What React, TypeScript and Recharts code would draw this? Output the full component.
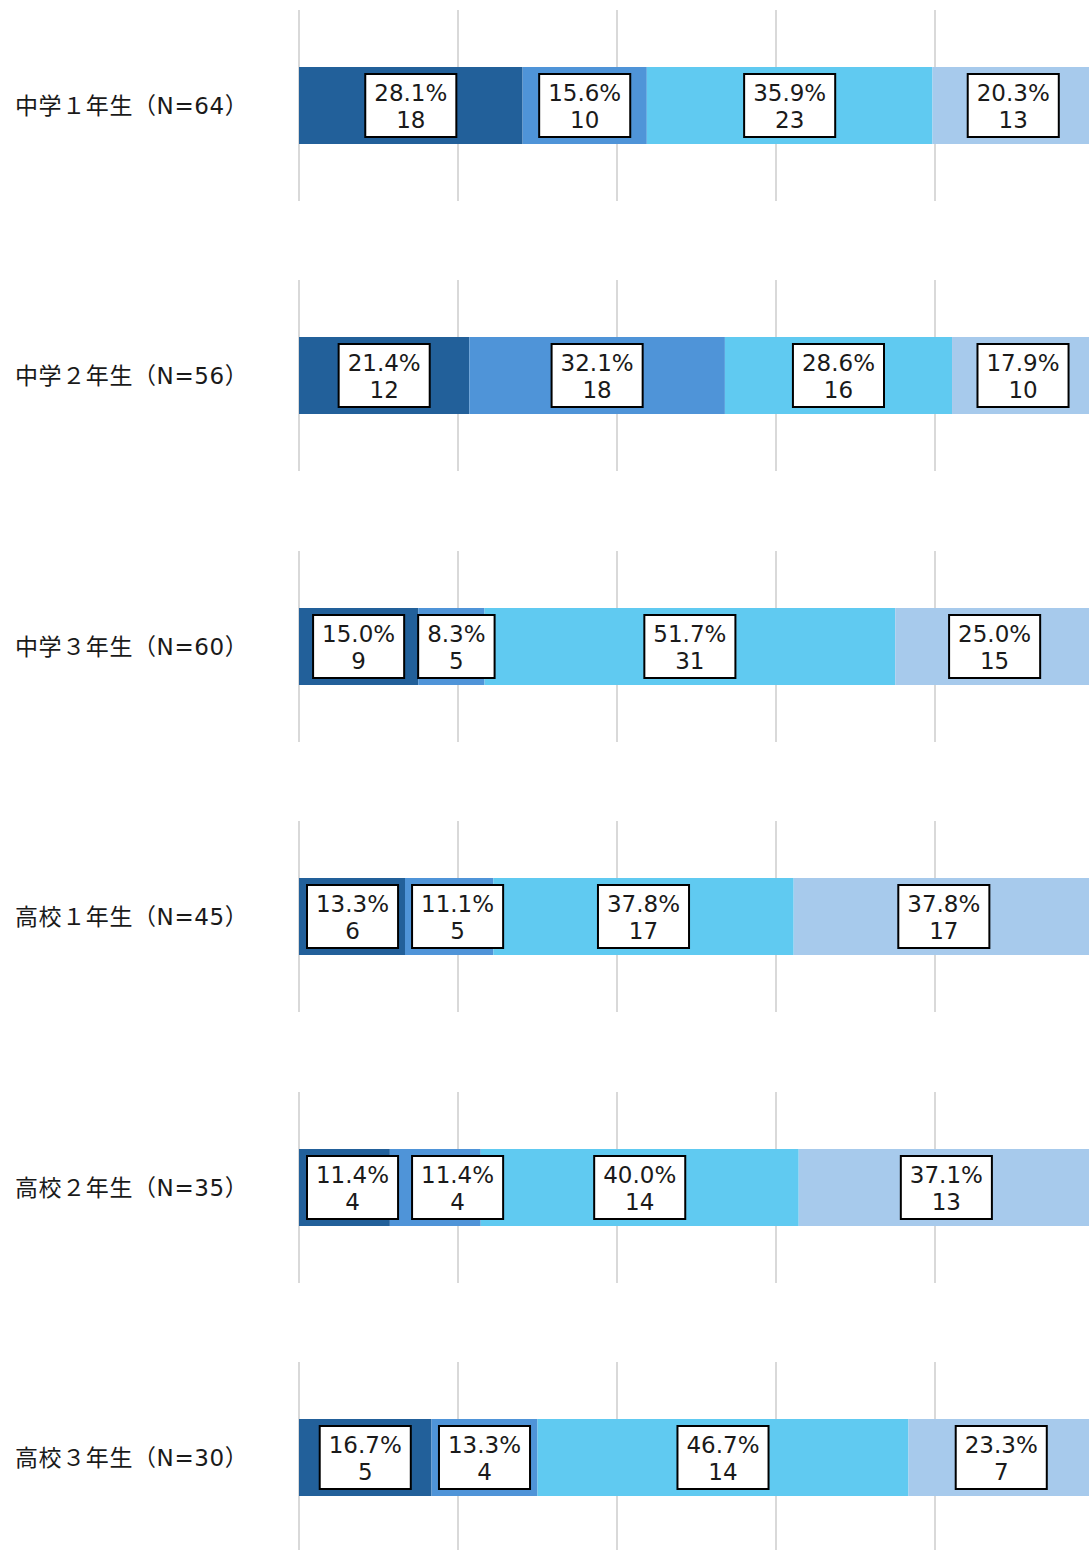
import React from 'react';
import { BarChart, Bar, XAxis, YAxis, CartesianGrid, LabelList } from 'recharts';

const categories = [
  '中学１年生（N=64）',
  '中学２年生（N=56）',
  '中学３年生（N=60）',
  '高校１年生（N=45）',
  '高校２年生（N=35）',
  '高校３年生（N=30）',
];

const seriesKeys = ['s1', 's2', 's3', 's4'];
const seriesColors = ['#22609A', '#4F94D8', '#60CAF1', '#A7CAEC'];

const counts1 = [18, 12, 9, 6, 4, 5];
const counts2 = [10, 18, 5, 5, 4, 4];
const counts3 = [23, 16, 31, 17, 14, 14];
const counts4 = [13, 10, 15, 17, 13, 7];

const pct1 = ['28.1%', '21.4%', '15.0%', '13.3%', '11.4%', '16.7%'];
const pct2 = ['15.6%', '32.1%', '8.3%', '11.1%', '11.4%', '13.3%'];
const pct3 = ['35.9%', '28.6%', '51.7%', '37.8%', '40.0%', '46.7%'];
const pct4 = ['20.3%', '17.9%', '25.0%', '37.8%', '37.1%', '23.3%'];

const gridTicks = [0, 0.2, 0.4, 0.6, 0.8, 1];

const countsBySeries = [counts1, counts2, counts3, counts4];
const pctBySeries = [pct1, pct2, pct3, pct4];

const rows = categories.map((name, i) => {
  const r: any = { name };
  seriesKeys.forEach((k, s) => {
    r[k] = countsBySeries[s][i];
  });
  return r;
});

const NUM_FONT = "'DejaVu Sans', 'Noto Sans CJK JP', sans-serif";
const NUM_SIZE = 23;
const BOX_PAD = 9;
const BOX_GAP = 14;

let ctx: CanvasRenderingContext2D | null = null;
function measure(text: string): number {
  try {
    if (!ctx) {
      const c = document.createElement('canvas');
      ctx = c.getContext('2d');
    }
    if (ctx) {
      ctx.font = `${NUM_SIZE}px ${NUM_FONT}`;
      return ctx.measureText(text).width;
    }
  } catch (e) {}
  return text.length * NUM_SIZE * 0.62;
}

function boxWidth(s: number, r: number) {
  return Math.max(measure(pctBySeries[s][r]), measure(String(countsBySeries[s][r]))) + BOX_PAD * 2;
}

const makeLabel = (seriesIdx: number, rowIdx: number) => (props: any) => {
  const x = Number(props.x);
  const width = Number(props.width);
  const y = Number(props.y);
  const height = Number(props.height);
  const rowCounts = countsBySeries.map((c) => c[rowIdx]);
  const unit = width / rowCounts[seriesIdx];
  let before = 0;
  for (let k = 0; k < seriesIdx; k++) before += rowCounts[k];
  const left0 = x - before * unit;
  // resolve label box overlaps left-to-right
  let cum = 0;
  let prevRight = -Infinity;
  let myLeft = 0;
  let myW = 0;
  for (let k = 0; k < rowCounts.length; k++) {
    const center = left0 + (cum + rowCounts[k] / 2) * unit;
    cum += rowCounts[k];
    const bw = boxWidth(k, rowIdx);
    let l = center - bw / 2;
    if (l < left0 + 8) l = left0 + 8;
    if (l < prevRight + BOX_GAP) l = prevRight + BOX_GAP;
    prevRight = l + bw;
    if (k === seriesIdx) {
      myLeft = l;
      myW = bw;
    }
  }
  const pct = pctBySeries[seriesIdx][rowIdx];
  const cnt = String(countsBySeries[seriesIdx][rowIdx]);
  const bh = 63;
  const cx = myLeft + myW / 2;
  const cy = y + height / 2;
  return (
    <g>
      <rect x={myLeft} y={cy - bh / 2} width={myW} height={bh} fill="#FFFFFF" stroke="#000000" strokeWidth={2} />
      <text x={cx} y={cy - 13} textAnchor="middle" dominantBaseline="central" fontFamily={NUM_FONT} fontSize={NUM_SIZE} fill="#1A1A1A">
        {pct}
      </text>
      <text x={cx} y={cy + 14} textAnchor="middle" dominantBaseline="central" fontFamily={NUM_FONT} fontSize={NUM_SIZE} fill="#1A1A1A">
        {cnt}
      </text>
    </g>
  );
};

const CategoryTick = (props: any) => {
  const { y, payload } = props;
  return (
    <text x={15} y={y} textAnchor="start" dominantBaseline="central" fontFamily={NUM_FONT} fontSize={23} letterSpacing={0.6} fill="#1A1A1A">
      {payload.value}
    </text>
  );
};

const RowChart = ({ rowIdx }: { rowIdx: number }) => (
  <BarChart
    width={1094}
    height={270}
    data={[rows[rowIdx]]}
    layout="vertical"
    stackOffset="expand"
    margin={{ top: 10, right: 0, bottom: 69, left: 0 }}
    barSize={77}
  >
    <CartesianGrid horizontal={false} vertical={true} stroke="#D9D9D9" strokeWidth={2} />
    <XAxis type="number" domain={[0, 1]} ticks={gridTicks} hide />
    <YAxis type="category" dataKey="name" width={299} axisLine={false} tickLine={false} tick={<CategoryTick />} />
    {seriesKeys.map((k, s) => (
      <Bar key={k} dataKey={k} stackId="a" fill={seriesColors[s]} isAnimationActive={false}>
        <LabelList dataKey={k} content={makeLabel(s, rowIdx)} />
      </Bar>
    ))}
  </BarChart>
);

export default function App() {
  return (
    <div style={{ position: 'absolute', left: 0, top: 0, width: 1089, height: 1550, overflow: 'hidden', background: '#FFFFFF' }}>
      {categories.map((c, i) => (
        <div key={c} style={{ position: 'absolute', left: 0, top: Math.round(i * 270.4), width: 1094, height: 270 }}>
          <RowChart rowIdx={i} />
        </div>
      ))}
    </div>
  );
}
